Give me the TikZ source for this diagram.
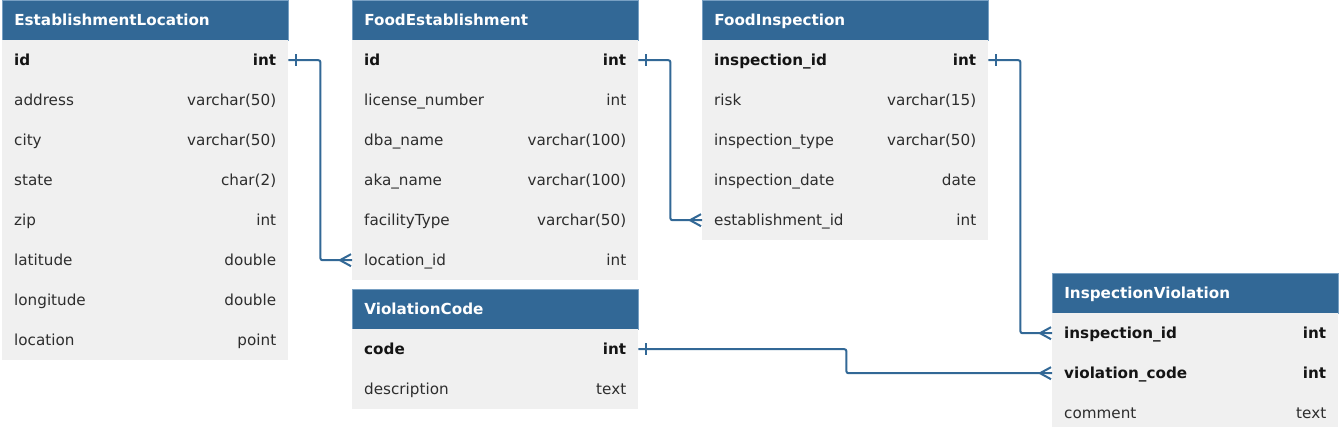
\documentclass[tikz,border=0pt]{standalone}
\usepackage{fontspec}
\setmainfont{DejaVu Sans}
\usetikzlibrary{calc}
\definecolor{hdr}{RGB}{50,104,150}
\definecolor{hdrline}{RGB}{120,160,195}
\definecolor{rowbg}{RGB}{240,240,240}
\definecolor{txt}{RGB}{45,45,45}
\tikzset{
  basebox/.style={anchor=north west, minimum width=286pt, minimum height=40pt,
    text width=262pt, inner xsep=12pt, inner ysep=0pt, align=left,
    text height=11pt, text depth=1.2pt},
  hdrbox/.style={basebox, fill=hdr, draw=hdrline, line width=0.6pt, text=white,
    font=\fontsize{15.2}{17}\selectfont\bfseries},
  plainrow/.style={basebox, fill=rowbg, text=txt, font=\fontsize{15.2}{17}\selectfont},
  keyrow/.style={basebox, fill=rowbg, text=black!92, font=\fontsize{15.2}{17}\selectfont\bfseries},
  plaintyp/.style={anchor=east, inner xsep=12pt, inner ysep=0pt, text height=11pt, text depth=1.2pt,
    text=txt, font=\fontsize{15.2}{17}\selectfont},
  keytyp/.style={plaintyp, text=black!92, font=\fontsize{15.2}{17}\selectfont\bfseries},
  rel/.style={draw=hdr, line width=2pt, rounded corners=2pt},
  relend/.style={draw=hdr, line width=2pt},
}
\newcommand\dbrow[6]{\node[#6row] (#1) at (#2,#3) {#4}; \node[#6typ] (#1-t) at (#1.east) {#5};}
\begin{document}
\begin{tikzpicture}[x=1pt,y=-1pt]
\clip (0,0) rectangle (1341,427);
\fill[white] (0,0) rectangle (1341,427);

% EstablishmentLocation
\node[hdrbox] (EL) at (2,0) {EstablishmentLocation};
\dbrow{EL-id}{2}{40}{id}{int}{key}
\dbrow{EL-addr}{2}{80}{address}{varchar(50)}{plain}
\dbrow{EL-city}{2}{120}{city}{varchar(50)}{plain}
\dbrow{EL-state}{2}{160}{state}{char(2)}{plain}
\dbrow{EL-zip}{2}{200}{zip}{int}{plain}
\dbrow{EL-lat}{2}{240}{latitude}{double}{plain}
\dbrow{EL-lon}{2}{280}{longitude}{double}{plain}
\dbrow{EL-loc}{2}{320}{location}{point}{plain}

% FoodEstablishment
\node[hdrbox] (FE) at (352,0) {FoodEstablishment};
\dbrow{FE-id}{352}{40}{id}{int}{key}
\dbrow{FE-lic}{352}{80}{license\_number}{int}{plain}
\dbrow{FE-dba}{352}{120}{dba\_name}{varchar(100)}{plain}
\dbrow{FE-aka}{352}{160}{aka\_name}{varchar(100)}{plain}
\dbrow{FE-fac}{352}{200}{facilityType}{varchar(50)}{plain}
\dbrow{FE-loc}{352}{240}{location\_id}{int}{plain}

% ViolationCode
\node[hdrbox] (VC) at (352,289) {ViolationCode};
\dbrow{VC-code}{352}{329}{code}{int}{key}
\dbrow{VC-desc}{352}{369}{description}{text}{plain}

% FoodInspection
\node[hdrbox] (FI) at (702,0) {FoodInspection};
\dbrow{FI-id}{702}{40}{inspection\_id}{int}{key}
\dbrow{FI-risk}{702}{80}{risk}{varchar(15)}{plain}
\dbrow{FI-type}{702}{120}{inspection\_type}{varchar(50)}{plain}
\dbrow{FI-date}{702}{160}{inspection\_date}{date}{plain}
\dbrow{FI-est}{702}{200}{establishment\_id}{int}{plain}

% InspectionViolation
\node[hdrbox] (IV) at (1052,273) {InspectionViolation};
\dbrow{IV-insp}{1052}{313}{inspection\_id}{int}{key}
\dbrow{IV-vc}{1052}{353}{violation\_code}{int}{key}
\dbrow{IV-com}{1052}{393}{comment}{text}{plain}

% relations
\draw[rel] (EL-id.east) -- ++(32,0) |- (FE-loc.west);
\draw[rel] (FE-id.east) -- ++(32,0) |- (FI-est.west);
\draw[rel] (FI-id.east) -- ++(32,0) |- (IV-insp.west);
\draw[rel] (VC-code.east) -- ++(208,0) |- (IV-vc.west);

% one-ends
\foreach \n in {EL-id, FE-id, FI-id, VC-code}
  \draw[relend] ($(\n.east)+(8,-6)$) -- ($(\n.east)+(8,6)$);
% many-ends
\foreach \n in {FE-loc, FI-est, IV-insp, IV-vc}
  \draw[relend] ($(\n.west)+(-1,-6)$) -- ($(\n.west)+(-12,0)$) -- ($(\n.west)+(-1,6)$);
\end{tikzpicture}
\end{document}
